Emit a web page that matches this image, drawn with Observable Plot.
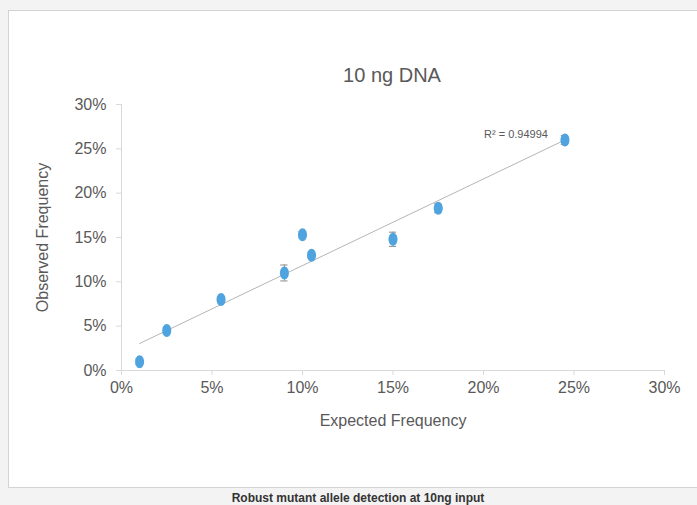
<!DOCTYPE html>
<html><head><meta charset="utf-8">
<script src="https://cdn.jsdelivr.net/npm/d3@7"></script>
<script src="https://cdn.jsdelivr.net/npm/@observablehq/plot@0.6"></script>
<style>
html,body{margin:0;padding:0;}
body{background:#f3f3f3;width:697px;height:505px;overflow:hidden;position:relative;font-family:"Liberation Sans",Arial,sans-serif;}
#box{position:absolute;left:8px;top:10px;width:700px;height:478px;background:#fff;border:1px solid #d3d3d3;box-sizing:border-box;}
#title{position:absolute;left:242px;width:300px;top:64px;line-height:22px;font-size:20px;text-align:center;color:#595959;}
#chart{position:absolute;left:0;top:90px;}
#caption{position:absolute;left:0;width:716px;top:491px;line-height:14px;font-size:12px;font-weight:bold;text-align:center;color:#333;}
</style></head>
<body>
<div id="box"></div>
<div id="title"></div>
<div id="chart"></div>
<div id="caption"></div>
<script>
const titleText = "10 ng DNA";
const captionText = "Robust mutant allele detection at 10ng input";
const xLabel = "Expected Frequency";
const yLabel = "Observed Frequency";
const r2Label = "R\u00b2 = 0.94994";
const tickValues = [0, 5, 10, 15, 20, 25, 30];
const expected = [1, 2.5, 5.5, 9, 10, 10.5, 15, 17.5, 24.5];
const observed = [1.0, 4.5, 8.0, 11.0, 15.3, 13.0, 14.8, 18.3, 26.0];
const errors   = [0.3, 0.3, 0.3, 0.9, 0.35, 0.3, 0.8, 0.5, 0.5];

document.getElementById("title").textContent = titleText;
document.getElementById("caption").textContent = captionText;

const data = expected.map((x, i) => ({x, y: observed[i], e: errors[i]}));
const pct = d => d + "%";
const ellipse = {
  draw(ctx) {
    const rx = 4.5, ry = 6.5, k = 0.5523;
    ctx.moveTo(rx, 0);
    ctx.bezierCurveTo(rx, ry * k, rx * k, ry, 0, ry);
    ctx.bezierCurveTo(-rx * k, ry, -rx, ry * k, -rx, 0);
    ctx.bezierCurveTo(-rx, -ry * k, -rx * k, -ry, 0, -ry);
    ctx.bezierCurveTo(rx * k, -ry, rx, -ry * k, rx, 0);
    ctx.closePath();
  }
};
const capHalf = 0.2;
const chart = Plot.plot({
  width: 697, height: 350,
  marginTop: 14, marginBottom: 70, marginLeft: 121, marginRight: 33,
  style: {fontFamily: "'Liberation Sans', Arial, sans-serif", background: "transparent"},
  x: {domain: [0, 30]},
  y: {domain: [0, 30]},
  marks: [
    Plot.ruleY([0], {stroke: "#d9d9d9"}),
    Plot.ruleX([0], {stroke: "#d9d9d9"}),
    Plot.axisX({ticks: tickValues, tickFormat: pct, tickSize: 5, tickPadding: 6, stroke: "#d9d9d9", color: "#595959", fontSize: 16, label: null}),
    Plot.axisY({ticks: tickValues, tickFormat: pct, tickSize: 5, tickPadding: 10, stroke: "#d9d9d9", color: "#595959", fontSize: 16, label: null}),
    Plot.text([xLabel], {frameAnchor: "bottom", dy: 50, textAnchor: "middle", lineAnchor: "middle", text: d => d, fontSize: 16, fill: "#595959"}),
    Plot.text([yLabel], {frameAnchor: "left", dx: -79, rotate: -90, textAnchor: "middle", lineAnchor: "middle", text: d => d, fontSize: 16, fill: "#595959"}),
    Plot.linearRegressionY(data, {x: "x", y: "y", stroke: "#b5b5b5", strokeWidth: 1, ci: 0}),
    Plot.ruleX(data, {x: "x", y1: d => d.y - d.e, y2: d => d.y + d.e, stroke: "#8c8c8c"}),
    Plot.ruleY(data, {y: d => d.y - d.e, x1: d => d.x - capHalf, x2: d => d.x + capHalf, stroke: "#8c8c8c"}),
    Plot.ruleY(data, {y: d => d.y + d.e, x1: d => d.x - capHalf, x2: d => d.x + capHalf, stroke: "#8c8c8c"}),
    Plot.dot(data, {x: "x", y: "y", symbol: ellipse, fill: "#4fa3df", stroke: "none"}),
    Plot.text(data.slice(-1), {x: "x", y: "y", text: () => r2Label, dx: -17, dy: -5, textAnchor: "end", fontSize: 11, fill: "#595959"})
  ]
});
document.getElementById("chart").appendChild(chart);
</script>
</body></html>
